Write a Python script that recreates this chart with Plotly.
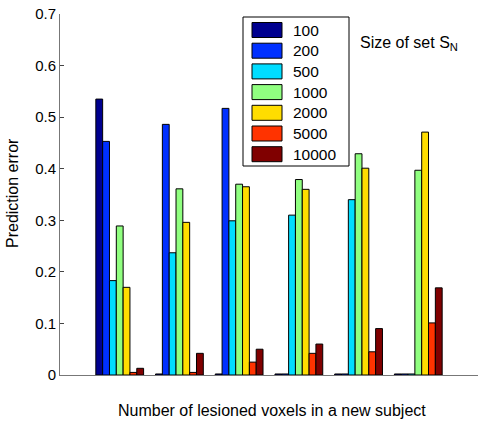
import plotly.graph_objects as go

groups = [1, 2, 3, 4, 5, 6]
sizes = ["100", "200", "500", "1000", "2000", "5000", "10000"]
colors = ["#00008F", "#0030FF", "#00DDFF", "#90FF80", "#FFDD00", "#FF3300", "#800000"]

err_100 = [0.535, 0.002, 0.002, 0.002, 0.002, 0.002]
err_200 = [0.453, 0.486, 0.517, 0.002, 0.002, 0.002]
err_500 = [0.183, 0.237, 0.299, 0.310, 0.340, 0.002]
err_1000 = [0.289, 0.361, 0.370, 0.379, 0.429, 0.397]
err_2000 = [0.170, 0.296, 0.365, 0.360, 0.401, 0.471]
err_5000 = [0.005, 0.005, 0.025, 0.042, 0.045, 0.101]
err_10000 = [0.013, 0.042, 0.050, 0.060, 0.090, 0.169]
series = [err_100, err_200, err_500, err_1000, err_2000, err_5000, err_10000]

W, H = 478, 422
L, R, T, B = 60, 0, 14, 47
pw, ph = W - L - R, H - T - B

def px(x):
    return (x - L) / pw

def py(y):
    return (H - B - y) / ph

fig = go.Figure()
for name, vals, c in zip(sizes, series, colors):
    fig.add_trace(go.Bar(x=groups, y=vals, name=name,
                         marker=dict(color=c, line=dict(color="black", width=1))))

font = "Arial, Liberation Sans, sans-serif"
shapes = []
annotations = []
# manual legend
shapes.append(dict(type="rect", xref="paper", yref="paper",
                   x0=px(243), x1=px(349), y0=py(166), y1=py(17),
                   line=dict(color="black", width=1), fillcolor="white", layer="above"))
for i, (name, c) in enumerate(zip(sizes, colors)):
    yc = 30 + i * 20.7
    shapes.append(dict(type="rect", xref="paper", yref="paper",
                       x0=px(252), x1=px(282), y0=py(yc + 7.5), y1=py(yc - 7.5),
                       line=dict(color="black", width=1), fillcolor=c, layer="above"))
    annotations.append(dict(text=name, xref="paper", yref="paper",
                            x=px(291), y=py(yc), xanchor="left", yanchor="middle",
                            showarrow=False, font=dict(size=15.5, color="black", family=font)))
annotations.append(dict(text="Size of set S<sub>N</sub>", xref="paper", yref="paper",
                        x=px(358), y=py(44), xanchor="left", yanchor="middle",
                        showarrow=False, font=dict(size=16, color="black", family=font)))
annotations.append(dict(text="Prediction error", xref="paper", yref="paper",
                        x=0, y=py(193), xshift=-48, xanchor="center", yanchor="middle",
                        textangle=-90, showarrow=False,
                        font=dict(size=16, color="black", family=font)))
annotations.append(dict(text="Number of lesioned voxels in a new subject", xref="paper", yref="paper",
                        x=px(272), y=py(410), xanchor="center", yanchor="middle",
                        showarrow=False, font=dict(size=16, color="black", family=font)))

fig.update_layout(
    width=W, height=H,
    margin=dict(l=L, r=R, t=T, b=B),
    paper_bgcolor="white", plot_bgcolor="white",
    barmode="group", bargap=0.2, bargroupgap=0,
    showlegend=False,
    shapes=shapes, annotations=annotations,
    font=dict(family=font, size=15, color="black"),
    xaxis=dict(range=[0, 7], showticklabels=False, ticks="", showgrid=False,
               zeroline=False, showline=True, linecolor="#777777", linewidth=1),
    yaxis=dict(range=[0, 0.7], tickvals=[0, 0.1, 0.2, 0.3, 0.4, 0.5, 0.6, 0.7],
               ticktext=["0", "0.1", "0.2", "0.3", "0.4", "0.5", "0.6", "0.7"],
               ticks="inside", ticklen=4, tickcolor="#444444",
               showgrid=False, zeroline=False, showline=True,
               linecolor="#777777", linewidth=1,
               tickfont=dict(size=15, color="black", family=font)),
)
fig.write_html("out.html")
